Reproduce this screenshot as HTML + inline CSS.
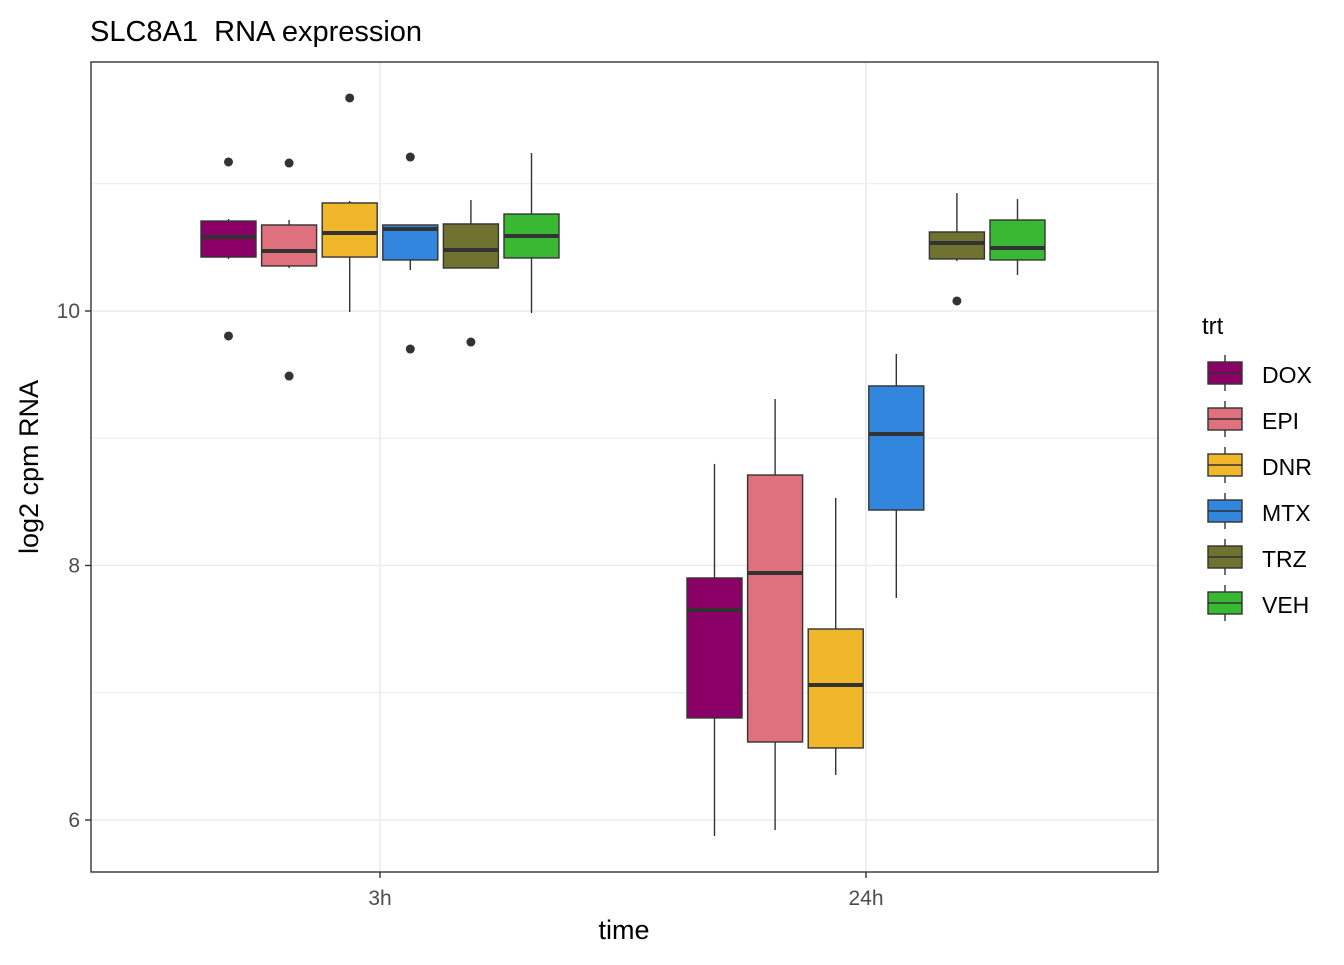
<!DOCTYPE html>
<html><head><meta charset="utf-8"><style>
html,body{margin:0;padding:0;background:#fff;}
text{font-family:"Liberation Sans",Arial,sans-serif;}
</style></head><body>
<svg id="chart" width="1344" height="960" viewBox="0 0 1344 960" xmlns="http://www.w3.org/2000/svg">
<rect x="0" y="0" width="1344" height="960" fill="#fff"/>
<text x="90" y="41" font-size="29" fill="#000">SLC8A1&#160; RNA expression</text>
<rect x="91" y="62" width="1067" height="810" fill="#fff"/>
<g id="grid"></g>
<g id="marks"></g>
<rect x="91" y="62" width="1067" height="810" fill="none" stroke="#333" stroke-width="1.4"/>
<g id="axes"></g>
<text x="624" y="939" font-size="27" text-anchor="middle">time</text>
<text transform="translate(38,467) rotate(-90)" font-size="27" text-anchor="middle">log2 cpm RNA</text>
<g id="legend"></g>
</svg>
<script>
const categories = ["3h","24h"];
const treatments = ["DOX","EPI","DNR","MTX","TRZ","VEH"];
const colors = ["#8B0066","#DF707E","#F1B72B","#3386DD","#707330","#39B933"];
const yTicks = [6,8,10];
const yMinor = [7,9,11];
// [lowWhisker, q1, median, q3, highWhisker] per treatment
const stats3h = [
 [10.409,10.424,10.582,10.707,10.723],
 [10.338,10.354,10.472,10.676,10.715],
 [9.992,10.424,10.613,10.849,10.864],
 [10.322,10.401,10.644,10.676,10.676],
 [10.338,10.338,10.479,10.684,10.872],
 [9.984,10.417,10.589,10.762,11.242]
];
const stats24h = [
 [5.874,6.802,7.650,7.902,8.798],
 [5.921,6.613,7.941,8.711,9.308],
 [6.354,6.566,7.061,7.501,8.530],
 [7.745,8.436,9.033,9.411,9.662],
 [10.393,10.409,10.534,10.621,10.927],
 [10.283,10.401,10.495,10.715,10.880]
];
const outliers3h = [[11.171,9.804],[11.163,9.489],[11.674],[11.210,9.701],[9.756],[]];
const outliers24h = [[],[],[],[],[10.079],[]];

const NS="http://www.w3.org/2000/svg";
function y(v){return 311+(10-v)*127.25;}
function xCat(i){return 380+i*486;}
function xBox(ci,ti){return xCat(ci)+(ti-2.5)*60.6;}
const BW=55;
function mk(tag,attrs,parent){const e=document.createElementNS(NS,tag);for(const k in attrs)e.setAttribute(k,attrs[k]);parent.appendChild(e);return e;}
const grid=document.getElementById('grid'),marks=document.getElementById('marks'),axes=document.getElementById('axes'),legend=document.getElementById('legend');
yMinor.forEach(v=>{const l=mk('line',{x1:91,x2:1158,y1:y(v),y2:y(v),stroke:'#ebebeb','stroke-width':1},grid);

});
yTicks.forEach(v=>{const l=mk('line',{x1:91,x2:1158,y1:y(v),y2:y(v),stroke:'#ebebeb','stroke-width':1.6},grid);


const t=mk('line',{x1:85,x2:91,y1:y(v),y2:y(v),stroke:'#333','stroke-width':1.4},axes);


const tx=mk('text',{x:80,y:y(v)+7,'font-size':21,fill:'#4d4d4d','text-anchor':'end'},axes);tx.textContent=v;

});
categories.forEach((c,i)=>{const l=mk('line',{x1:xCat(i),x2:xCat(i),y1:62,y2:872,stroke:'#ebebeb','stroke-width':1.6},grid);


const t=mk('line',{x1:xCat(i),x2:xCat(i),y1:872,y2:878,stroke:'#333','stroke-width':1.4},axes);


const tx=mk('text',{x:xCat(i),y:905,'font-size':21,fill:'#4d4d4d','text-anchor':'middle'},axes);tx.textContent=c;

});
[stats3h,stats24h].forEach((set,ci)=>{set.forEach((s,ti)=>{
 const cx=xBox(ci,ti);const g=mk('g',{},marks);
 
 
 mk('line',{x1:cx,x2:cx,y1:y(s[4]),y2:y(s[3]),stroke:'#333','stroke-width':1.4},g);
 mk('line',{x1:cx,x2:cx,y1:y(s[1]),y2:y(s[0]),stroke:'#333','stroke-width':1.4},g);
 mk('rect',{x:cx-BW/2,y:y(s[3]),width:BW,height:y(s[1])-y(s[3]),fill:colors[ti],stroke:'#333','stroke-width':1.4},g);
 mk('line',{x1:cx-BW/2,x2:cx+BW/2,y1:y(s[2]),y2:y(s[2]),stroke:'#333','stroke-width':4},g);
 const outs=(ci==0?outliers3h:outliers24h)[ti];
 outs.forEach(o=>{const p=mk('circle',{cx:cx,cy:y(o),r:4.5,fill:'#333'},g);
 
 });
});});
const lt=mk('text',{x:1202,y:334,'font-size':24},legend);lt.textContent='trt';


treatments.forEach((t,i)=>{const yy=361+i*46;const g=mk('g',{},legend);
 
 
 mk('line',{x1:1225,x2:1225,y1:yy-6,y2:yy+30,stroke:'#333','stroke-width':1.4},g);
 mk('rect',{x:1208,y:yy+1,width:34,height:22,fill:colors[i],stroke:'#333','stroke-width':1.4},g);
 mk('line',{x1:1208,x2:1242,y1:yy+12,y2:yy+12,stroke:'#333','stroke-width':1.4},g);
 const tx=mk('text',{x:1262,y:yy+22,'font-size':23},g);tx.textContent=t;});
</script>
</body></html>
